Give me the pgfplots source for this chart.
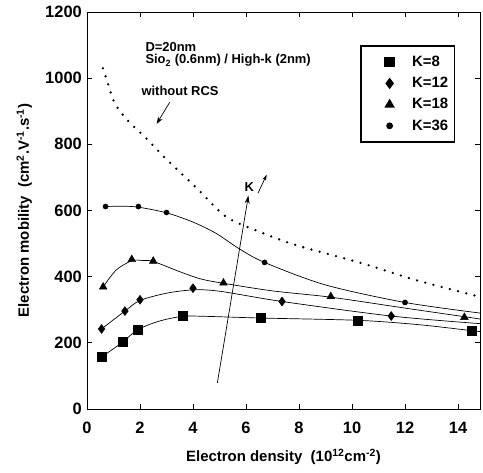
\documentclass[border=0pt]{standalone}
\usepackage{amsmath}
\usepackage{fontspec}
\setmainfont{Liberation Sans}
\usepackage{pgfplots}
\pgfplotsset{compat=1.18}
\usetikzlibrary{arrows.meta}

\begin{document}
\fontsize{12}{14}\selectfont
\bfseries
\begin{tikzpicture}
\begin{axis}[
    scale only axis,
    width=393bp,
    height=397bp,
    xmin=0, xmax=14.83,
    ymin=0, ymax=1200,
    xtick={0,2,...,14},
    ytick={0,200,...,1200},
    tick align=inside,
    major tick length=5bp,
    axis line style={line width=0.8pt},
    tick style={line width=0.8pt, black},
    /pgf/number format/assume math mode=true,
    /pgf/number format/set thousands separator={},
    tick label style={font=\fontsize{16.5}{18}\selectfont\bfseries},
    xticklabel style={yshift=-9bp},
    yticklabel style={xshift=-1bp},
    xlabel={Electron density\ \ (10$^{\text{12}}$cm$^{\text{-2}}$)},
    ylabel={Electron mobility\ \ (cm$^{\text{2}}$.V$^{\text{-1}}$.s$^{\text{-1}}$)},
    label style={font=\fontsize{15}{17}\selectfont\bfseries},
    xlabel style={yshift=-7bp},
    ylabel style={yshift=5bp},
    legend style={at={(0.695,0.916)}, anchor=north west, draw=black, line width=1.5pt,
        font=\fontsize{15}{17}\selectfont\bfseries, row sep=5bp, inner xsep=4bp, inner ysep=8bp,
        legend cell align=left,
        /tikz/every odd column/.append style={column sep=16bp}},
    legend image code/.code={\path (-24bp,0) (0,0); \draw plot coordinates {(0bp,0bp)};},
    clip=true,
]
% smooth curves (no marks)
\addplot[forget plot, black, line width=0.7pt, smooth, tension=0.5] coordinates {
    (0.55,157) (1.34,202) (1.9,239) (2.7,265) (3.6,280) (4.5,280) (6.54,275) (10.23,268) (12.5,255) (14.5,237) (14.83,234)
};
\addplot[forget plot, black, line width=0.7pt, smooth, tension=0.5] coordinates {
    (0.55,242) (1.43,296) (2.0,328) (3.0,350) (4.0,360) (5.0,356) (7.36,325) (11.48,281) (14.83,258)
};
\addplot[forget plot, black, line width=0.7pt, smooth, tension=0.5] coordinates {
    (0.61,369) (1.1,420) (1.69,448) (2.1,449) (2.5,446) (3.5,415) (4.3,393) (5.15,380) (7,357) (9.2,338) (12,305) (14.24,279) (14.83,272)
};
\addplot[forget plot, black, line width=0.7pt, smooth, tension=0.5] coordinates {
    (0.7,612) (1.3,613) (1.94,610) (3.0,593) (4.0,565) (4.87,531) (5.75,484) (6.7,443) (9,375) (12.0,322) (14.83,290)
};
% without RCS
\addplot[forget plot, black, line width=2.6pt, line cap=round, dash pattern=on 0pt off 8.5pt, smooth] coordinates {
    (0.6,1030) (0.75,994) (1.05,924) (1.55,871) (2.2,821) (2.87,765) (3.56,712) (4.25,659)
    (5.25,581) (6.5,536) (7.9,495) (10.4,440) (12.4,390) (14.83,339)
};
% markers
\addplot[only marks, mark=square*, mark size=4.5bp, black] coordinates {
    (0.55,157) (1.34,202) (1.9,239) (3.6,281) (6.54,275) (10.23,268) (14.5,237)
};
\addlegendentry{K=8}
\addplot[only marks, mark=diamond*, mark size=4.5bp, black] coordinates {
    (0.55,242) (1.43,296) (2.0,330) (4.0,365) (7.36,325) (11.48,281)
};
\addlegendentry{K=12}
\addplot[only marks, mark=triangle*, mark size=4.5bp, black] coordinates {
    (0.61,369) (1.69,452) (2.5,447) (5.15,381) (9.2,340) (14.24,277)
};
\addlegendentry{K=18}
\addplot[only marks, mark=*, mark size=2.6bp, black] coordinates {
    (0.7,612) (1.94,612) (3.0,594) (6.7,443) (12.0,322)
};
\addlegendentry{K=36}
% annotations
\node[anchor=west, font=\fontsize{13}{15}\selectfont\bfseries] at (axis cs:2.05,1095) {D=20nm};
\node[anchor=west, font=\fontsize{13}{15}\selectfont\bfseries] at (axis cs:2.05,1053) {Sio$_{\text{2}}$ (0.6nm) / High-k (2nm)};
\node[anchor=west, font=\fontsize{13}{15}\selectfont\bfseries] at (axis cs:1.9,963) {without RCS};
\draw[-{Stealth[length=7bp,width=5bp]}, line width=0.7pt] (axis cs:3.12,927) -- (axis cs:2.63,862);
\draw[-{Stealth[length=8bp,width=5bp]}, line width=0.7pt] (axis cs:4.92,79) -- (axis cs:6.09,645);
\node[font=\fontsize{13}{15}\selectfont\bfseries] at (axis cs:6.12,672) {K};
\draw[-{Stealth[length=6bp,width=4bp]}, line width=0.7pt] (axis cs:6.45,652) -- (axis cs:6.78,708);
\end{axis}
% pin the page size to the reference margins
\path (current axis.south west) ++(-87bp,-64bp);
\path (current axis.north east) ++(3bp,12bp);
\end{tikzpicture}
\end{document}
